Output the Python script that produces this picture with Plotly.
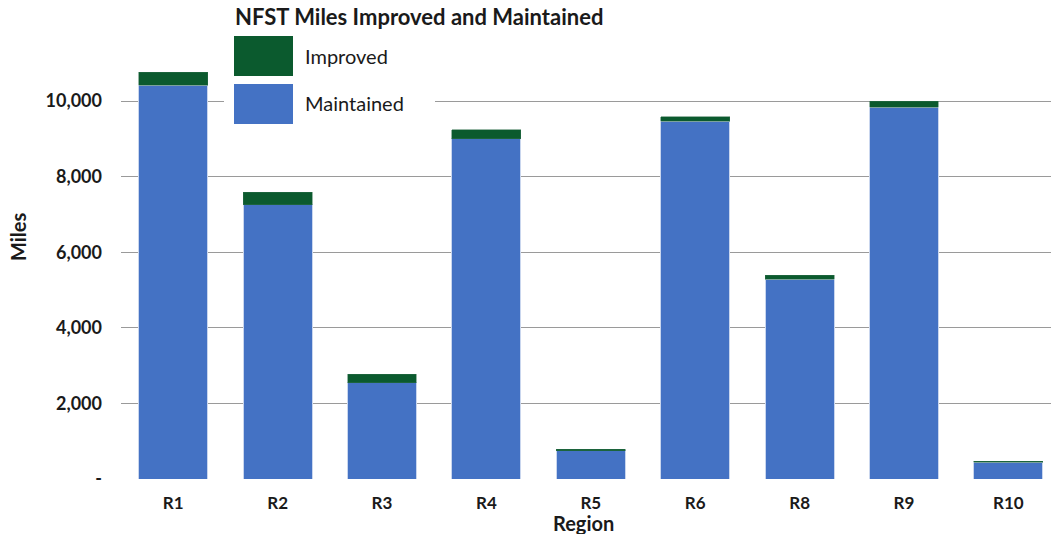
import plotly.graph_objects as go

regions = ["R1", "R2", "R3", "R4", "R5", "R6", "R8", "R9", "R10"]
maintained = [10415, 7259, 2546, 9003, 748, 9471, 5287, 9841, 449]
improved = [344, 328, 219, 230, 34, 114, 106, 159, 18]

ytick_vals = [0, 2000, 4000, 6000, 8000, 10000]
ytick_text = ["-", "2,000", "4,000", "6,000", "8,000", "10,000"]

W, H = 1051, 534
# plot area in screen pixels
SX0, SX1, SY0, SY1 = 121, 1051, 60, 479
ML, MR, MT, MB = SX0, W - SX1, SY0, H - SY1
PW, PH = SX1 - SX0, SY1 - SY0

def px(x):
    return (x - SX0) / PW

def py(y):
    return (SY1 - y) / PH

FONT = "Lato"
TXT = "#1a1a1a"
GREEN = "#0B5A2E"
BLUE = "#4472C4"
EDGE = "#C9D6EE"

fig = go.Figure()
fig.add_trace(go.Bar(x=regions, y=maintained, name="Maintained",
                     marker=dict(color=BLUE, line=dict(color=EDGE, width=1)),
                     showlegend=False))
fig.add_trace(go.Bar(x=regions, y=improved, name="Improved",
                     marker=dict(color=GREEN, line=dict(color="#2E6E4A", width=0.5)),
                     showlegend=False))

shapes = [
    dict(type="rect", xref="paper", yref="paper", x0=px(224), x1=px(435), y0=py(127), y1=py(28),
         fillcolor="white", line=dict(width=0), layer="above"),
    dict(type="rect", xref="paper", yref="paper", x0=px(234), x1=px(293), y0=py(76), y1=py(36),
         fillcolor=GREEN, line=dict(width=0), layer="above"),
    dict(type="rect", xref="paper", yref="paper", x0=px(234), x1=px(293), y0=py(124), y1=py(84),
         fillcolor=BLUE, line=dict(width=0), layer="above"),
]

annotations = [
    dict(text="<b>NFST Miles Improved and Maintained</b>", xref="paper", yref="paper",
         x=px(233), y=py(17), xanchor="left", yanchor="middle", showarrow=False,
         font=dict(family=FONT, size=22, color=TXT)),
    dict(text="Improved", xref="paper", yref="paper", x=px(303), y=py(56),
         xanchor="left", yanchor="middle", showarrow=False,
         font=dict(family=FONT, size=20, color=TXT)),
    dict(text="Maintained", xref="paper", yref="paper", x=px(303), y=py(103),
         xanchor="left", yanchor="middle", showarrow=False,
         font=dict(family=FONT, size=20, color=TXT)),
    dict(text="<b>Miles</b>", xref="paper", yref="paper", x=px(18), y=py(237),
         xanchor="center", yanchor="middle", textangle=-90, showarrow=False,
         font=dict(family=FONT, size=20, color=TXT)),
    dict(text="<b>Region</b>", xref="paper", yref="paper", x=px(583), y=py(523),
         xanchor="center", yanchor="middle", showarrow=False,
         font=dict(family=FONT, size=20, color=TXT)),
]

fig.update_layout(
    width=W, height=H,
    margin=dict(l=ML, r=MR, t=MT, b=MB, autoexpand=False),
    barmode="stack", bargap=0.34,
    plot_bgcolor="white", paper_bgcolor="white",
    shapes=shapes, annotations=annotations,
    font=dict(family=FONT, color=TXT),
    xaxis=dict(range=[-0.5, -0.5 + PW / 104.4], showgrid=False, zeroline=False,
               showline=False, ticks="", ticklabelstandoff=12,
               tickfont=dict(family=FONT, size=17, weight="bold", color=TXT)),
    yaxis=dict(range=[0, PH / 378.0 * 10000], tickvals=ytick_vals, ticktext=ytick_text,
               showgrid=True, gridcolor="#9A9A9A", gridwidth=1.3, zeroline=False,
               ticks="", ticklabelstandoff=18,
               tickfont=dict(family=FONT, size=18, weight="bold", color=TXT)),
)

fig.write_html("out.html", config={"displayModeBar": False},
               post_script="document.body.style.margin='0';document.body.style.overflow='hidden';")
